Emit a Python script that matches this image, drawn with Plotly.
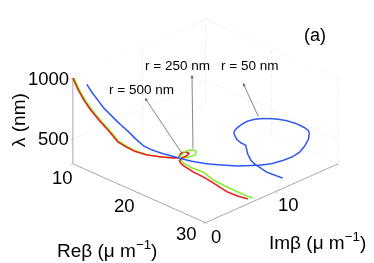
import plotly.graph_objects as go

re_ticks = [10, 20, 30]
im_ticks = [0, 10]
lam_ticks = [500, 1000]
re_range = [10, 30]
im_range = [0, 19]
lam_range = [300, 1000]

blue_re = [12.1,12.86,13.76,14.66,15.7,16.92,18.27,19.47,20.68,21.88,22.66,24.23,25.35,26.81,28.01,29.2,29.74,29.96,29.85,29.73,29.4,28.76,27.88,27.04,26.57,25.85,24.69,23.54,22.7,22.12,21.42,20.88,20.59,20.6,20.71,20.88,21.22,22.35,23.15,23.84,24.65,25.29,26.34,27.11,28.74,29.53,29.91]
blue_im = [0,0,0,0,0,0,0,0,0,0,0.53,1.6,2.25,3.29,4.28,5.28,8.04,9.53,11.34,12.73,14.03,15.35,16.75,17.68,17.99,18.1,18.05,17.73,17.23,16.65,16.18,15.56,14.83,14.11,13.44,12.85,12.4,11.74,11.57,11.62,11.0,10.53,9.97,9.82,9.98,10.36,11.14]
blue_lam = [1000,954,911,868,836,800,767,731,703,700,680,650,635,620,615,610,560,540,520,510,505,505,505,510,515,520,525,530,535,540,535,530,525,520,515,510,505,500,495,490,485,480,470,460,430,415,380]

red_re = [10,10.75,11.65,12.7,14.06,15.4,16.8,17.97,19.2,20.49,21.46,22.23,22.48,21.73,21.52,21.57,21.84,21.91,21.66,21.81,22.27,22.85,23.99,25.27,25.95,26.64,28.78,29.81,29.93,29.89]
red_im = [0,0,0,0,0,0,0,0,0,0.6,1.67,2.64,3.25,4.25,4.73,5.11,5.42,4.93,4.46,4.04,3.89,3.9,3.96,4.16,4.24,4.3,4.25,4.71,5.45,6.19]
red_lam = [1000,928,861,804,747,699,642,632,626,610,590,575,565,555,550,545,535,525,515,505,495,485,470,455,445,435,415,395,365,335]

green_re = [10,10.75,11.65,12.7,14.06,15.4,16.8,17.97,19.2,20.49,21.46,22.23,22.48,21.79,21.57,21.61,21.81,22.11,22.52,22.11,21.63,21.69,22.15,23.25,24.42,25.28,26.13,27.94,29.63,29.84,29.9]
green_im = [0.14,0.14,0.14,0.14,0.14,0.14,0.14,0.14,0.14,0.65,1.72,2.69,3.3,4.62,5.25,5.78,6.17,6.16,5.63,5.02,4.63,4.43,4.28,4.53,4.96,4.87,4.78,5.05,5.3,6.1,6.89]
green_lam = [1000,928,861,804,747,699,642,632,626,610,590,575,565,555,550,545,540,535,530,520,510,500,490,470,455,445,435,415,400,360,325]

GRID = "#c8c8c8"
AXIS = "#8c8c8c"
FONT = "Liberation Sans"
fig = go.Figure()

def seg(xs, ys, zs):
    fig.add_trace(go.Scatter3d(x=xs, y=ys, z=zs, mode="lines", hoverinfo="skip", showlegend=False,
                               line=dict(color=GRID, width=1, dash="dot")))

r0, r1 = re_range
i0, i1 = im_range
z0, z1 = lam_range
seg([r0, r0, r1, r1], [i0, i1, i1, i1], [z1, z1, z1, z0])
seg([r0, r0, r1], [i0, i1, i1], [z0, z0, z0])
seg([r0, r0], [i1, i1], [z0, z1])
seg([r1, r1], [i0, i1], [z0, z0])
for r in re_ticks[1:-1]:
    seg([r, r, r], [i0, i1, i1], [z0, z0, z1])
for i in im_ticks[1:]:
    seg([r1, r0, r0], [i, i, i], [z0, z0, z1])
for z in lam_ticks[:-1]:
    seg([r0, r0, r1], [i0, i1, i1], [z, z, z])

for xs, ys, zs, c in [(blue_re, blue_im, blue_lam, "#2f55f0"),
                      (green_re, green_im, green_lam, "#7fef1f"),
                      (red_re, red_im, red_lam, "#f01818")]:
    fig.add_trace(go.Scatter3d(x=xs, y=ys, z=zs, mode="lines", showlegend=False, hoverinfo="skip",
                               line=dict(color=c, width=3)))

def axis(vals, rng):
    return dict(range=rng, tickvals=vals, showticklabels=False,
                showgrid=False, zeroline=False, showbackground=False, showspikes=False,
                showline=True, linecolor=AXIS, linewidth=1.5, ticks="outside", ticklen=3,
                tickcolor=AXIS, title=dict(text=""), autorange=False)

def tick(x, y, z, xshift, yshift):
    label = x if yshift is None else None
    return dict(x=x, y=y, z=z, xshift=xshift, yshift=yshift, showarrow=False, xanchor="center", yanchor="middle",
                font=dict(family=FONT, size=18.5, color="black"))

scene_anns = []
for v, xs, ys in zip(re_ticks, [-11, -15, -19], [-14, -12, -11]):
    scene_anns.append({**tick(v, i0, z0, xs, ys), "text": str(v)})
for v, xs, ys in zip(im_ticks, [10, 13], [-14, -13]):
    scene_anns.append({**tick(r1, v, z0, xs, ys), "text": str(v)})
for v, xs, ys in zip(lam_ticks, [-20, -25], [1, 0]):
    scene_anns.append({**tick(r0, i0, v, xs, ys), "text": str(v)})

W, H = 374, 263
def P(px, py):
    return px / W, 1 - py / H

anns = []
for txt, px, py, sz in [("r = 500 nm", 141, 89, 13.5), ("r = 250 nm", 177, 66, 13.5), ("r = 50 nm", 249, 66, 13.5),
                        ("(a)", 315, 35, 18), ("Reβ (μ m<sup>−1</sup>)", 107, 249, 19), ("Imβ (μ m<sup>−1</sup>)", 317, 241, 19)]:
    x, y = P(px, py)
    anns.append(dict(text=txt, x=x, y=y, xref="paper", yref="paper", showarrow=False,
                     font=dict(family=FONT, size=sz, color="black"), xanchor="center", yanchor="middle"))
lab_x, lab_y = P(18, 120)
anns.append(dict(text="λ (nm)", x=lab_x, y=lab_y, xref="paper", yref="paper", showarrow=False, textangle=-90,
                 xanchor="center", yanchor="middle", font=dict(family=FONT, size=19, color="black")))
for (hx, hy, tx, ty) in [(145, 98, 183, 155), (192, 75, 193, 150), (243, 83, 259, 118)]:
    x, y = P(hx, hy)
    anns.append(dict(text="", x=x, y=y, xref="paper", yref="paper", showarrow=True, arrowhead=2, arrowsize=0.8,
                     arrowwidth=0.8, arrowcolor="#666666", ax=tx - hx, ay=ty - hy, axref="pixel", ayref="pixel", standoff=0))

fig.update_layout(
    width=W, height=H, margin=dict(l=0, r=0, t=0, b=0), paper_bgcolor="white", showlegend=False,
    annotations=anns,
    scene=dict(
        domain=dict(x=[0.10, 1.0], y=[0.08, 1.0]),
        xaxis=axis(re_ticks, re_range), yaxis=axis(im_ticks, im_range), zaxis=axis(lam_ticks, lam_range),
        aspectmode="manual", aspectratio=dict(x=1.55, y=1.55, z=0.79),
        camera=dict(projection=dict(type="orthographic"), eye=dict(x=1.2, y=-1.2, z=0.84), up=dict(x=0, y=0, z=1)),
        annotations=scene_anns,
    ),
)
fig.write_html("out.html", post_script="document.body.style.margin='0';", config=dict(displayModeBar=False))
